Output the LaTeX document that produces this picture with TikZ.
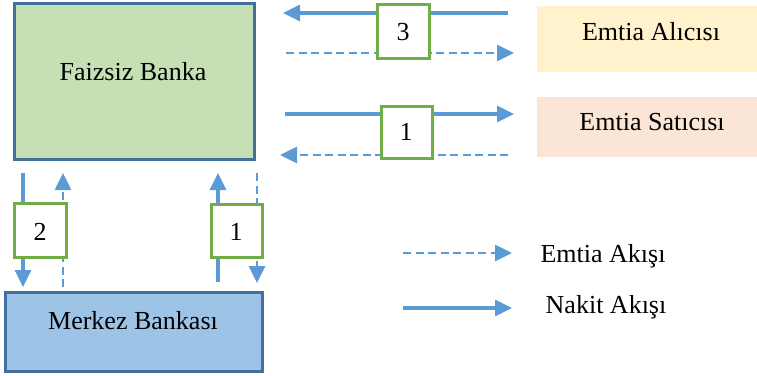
\documentclass[tikz,border=0pt]{standalone}
\usepackage{fontspec}
\setmainfont{Liberation Serif}
\usetikzlibrary{arrows.meta}
\definecolor{flowblue}{HTML}{5B9BD5}
\definecolor{frameblue}{HTML}{41719C}
\definecolor{stepgreen}{HTML}{70AD47}
\definecolor{bankgreen}{HTML}{C5E0B4}
\definecolor{cbblue}{HTML}{9DC3E6}
\definecolor{buyerfill}{HTML}{FFF2CC}
\definecolor{sellerfill}{HTML}{FBE5D6}
\begin{document}
\begin{tikzpicture}[x=1pt,y=-1pt,
  lbl/.style={font=\fontsize{26}{30}\selectfont, anchor=base, inner sep=0pt},
  numbox/.style={draw=stepgreen, fill=white, line width=3pt},
  tip/.style={-{Triangle[length=17pt,width=16pt]}},
  cash/.style={flowblue, line width=3.2pt, tip},
  goods/.style={flowblue, line width=2.6pt, dash pattern=on 8pt off 4.5pt, tip}
]
\useasboundingbox (0,0) rectangle (757,375);

% parties
\path[fill=bankgreen, draw=frameblue, line width=3pt] (14,3) rectangle (254,159);
\node[lbl] (fb) at (133,80) {Faizsiz Banka};
\path[fill=cbblue, draw=frameblue, line width=3pt] (5,292) rectangle (262,371);
\node[lbl] (mb) at (133,329) {Merkez Bankası};
\path[fill=buyerfill] (537,6) rectangle (757,72);
\node[lbl] (ea) at (651,40) {Emtia Alıcısı};
\path[fill=sellerfill] (537,97) rectangle (757,157);
\node[lbl] (es) at (652,130) {Emtia Satıcısı};

% flow end points
\coordinate (a3s) at (508,13);   \coordinate (a3e) at (283,13);
\coordinate (d3s) at (286,53);   \coordinate (d3e) at (514,53);
\coordinate (a1s) at (285,114);  \coordinate (a1e) at (514,114);
\coordinate (d1s) at (508,155);  \coordinate (d1e) at (280,155);
\coordinate (l2s) at (23,173);   \coordinate (l2e) at (23,287);
\coordinate (l2ds) at (63,287);  \coordinate (l2de) at (63,173);
\coordinate (r1s) at (218,282);  \coordinate (r1e) at (218,173);
\coordinate (r1ds) at (257,173); \coordinate (r1de) at (257,283);
\coordinate (lg1s) at (403,253); \coordinate (lg1e) at (512,253);
\coordinate (lg2s) at (403,308); \coordinate (lg2e) at (512,308);

% flows
\draw[cash] (a3s) -- (a3e);
\draw[goods] (d3s) -- (d3e);
\draw[cash] (a1s) -- (a1e);
\draw[goods] (d1s) -- (d1e);
\draw[cash] (l2s) -- (l2e);
\draw[goods] (l2ds) -- (l2de);
\draw[cash] (r1s) -- (r1e);
\draw[goods] (r1ds) -- (r1de);

% step numbers
\path[numbox] (377,4) rectangle (429,58);
\node[lbl] (n3) at (403,40) {3};
\path[numbox] (381,106) rectangle (432,158);
\node[lbl] (n1a) at (406,140) {1};
\path[numbox] (14,203) rectangle (66,257);
\node[lbl] (n2) at (40,240) {2};
\path[numbox] (211,204) rectangle (262,257);
\node[lbl] (n1b) at (236,240) {1};

% legend
\draw[goods] (lg1s) -- (lg1e);
\node[lbl] (lge) at (603,262) {Emtia Akışı};
\draw[cash] (lg2s) -- (lg2e);
\node[lbl] (lgn) at (606,313) {Nakit Akışı};
\end{tikzpicture}
\end{document}
